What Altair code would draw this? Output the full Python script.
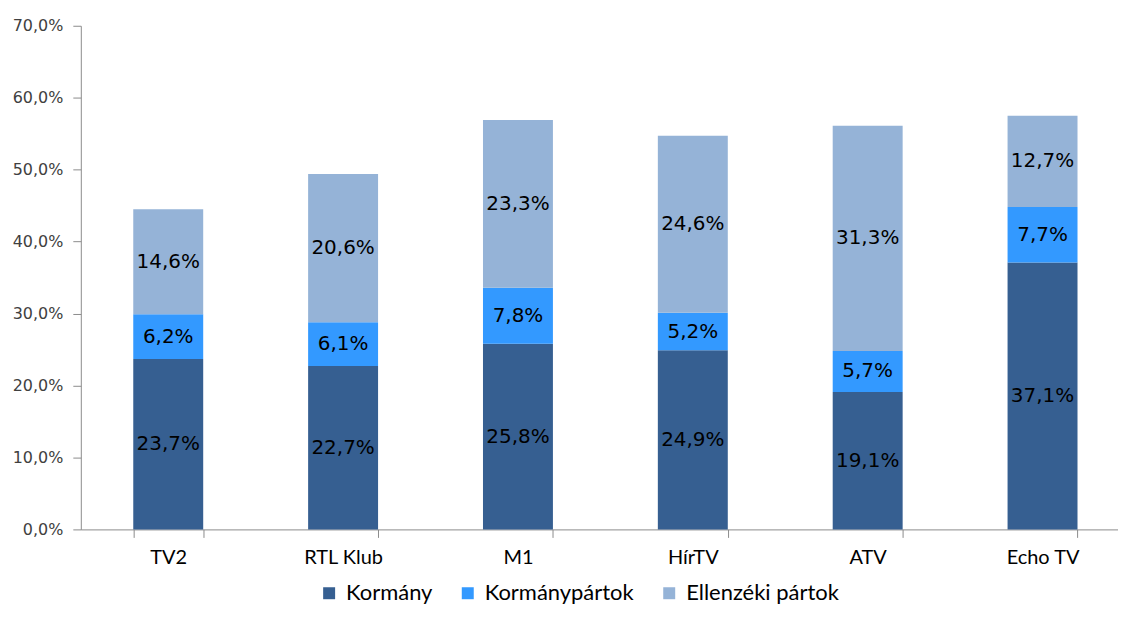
import altair as alt
import pandas as pd

channels = ["TV2", "RTL Klub", "M1", "HírTV", "ATV", "Echo TV"]
series = ["Kormány", "Kormánypártok", "Ellenzéki pártok"]
kormany = [23.7, 22.7, 25.8, 24.9, 19.1, 37.1]
kormanypartok = [6.2, 6.1, 7.8, 5.2, 5.7, 7.7]
ellenzeki = [14.6, 20.6, 23.3, 24.6, 31.3, 12.7]
colors = ["#365F91", "#3399FF", "#95B3D7"]
y_ticks = [0, 10, 20, 30, 40, 50, 60, 70]

rows = []
for i, ch in enumerate(channels):
    for j, (s, vals) in enumerate(zip(series, [kormany, kormanypartok, ellenzeki])):
        rows.append({"channel": ch, "series": s, "value": vals[i], "order": j})
df = pd.DataFrame(rows)

x_enc = alt.X(
    "channel:N",
    sort=channels,
    title=None,
    scale=alt.Scale(range=[0, 1052], paddingInner=0.6, paddingOuter=0.3),
    axis=alt.Axis(
        labelAngle=0,
        labelFont="Lato",
        labelFontSize=20,
        labelColor="#000000",
        labelPadding=10,
        tickBand="extent",
        tickSize=8,
        tickColor="#8c8c8c",
        domainColor="#8c8c8c",
        grid=False,
    ),
)

base = alt.Chart(df).transform_stack(
    stack="value",
    groupby=["channel"],
    as_=["y0", "y1"],
    sort=[alt.SortField("order", order="ascending")],
).transform_calculate(
    mid="(datum.y0 + datum.y1) / 2",
    lbl="replace(format(datum.value, '.1f'), '.', ',') + '%'",
)

bars = base.mark_bar().encode(
    x=x_enc,
    y=alt.Y(
        "y0:Q",
        title=None,
        scale=alt.Scale(domain=[0, 70], nice=False),
        axis=alt.Axis(
            values=y_ticks,
            labelExpr="replace(format(datum.value, '.1f'), '.', ',') + '%'",
            labelFont="DejaVu Sans",
            labelFontSize=16,
            labelColor="#404040",
            labelPadding=10,
            tickSize=8,
            tickColor="#8c8c8c",
            domainColor="#8c8c8c",
            grid=False,
        ),
    ),
    y2="y1:Q",
    color=alt.Color(
        "series:N",
        sort=series,
        scale=alt.Scale(domain=series, range=colors),
        legend=alt.Legend(
            title=None,
            orient="none",
            direction="horizontal",
            legendX=238,
            legendY=558,
            symbolType="square",
            symbolSize=144,
            symbolStrokeWidth=0,
            labelFont="Lato",
            labelFontSize=22,
            labelColor="#000000",
            labelOffset=6,
            columnPadding=24,
            padding=0,
        ),
    ),
)

labels = base.mark_text(
    font="DejaVu Sans", fontSize=20, color="#000000", baseline="middle", align="center"
).encode(
    x=alt.X("channel:N", sort=channels),
    y=alt.Y("mid:Q"),
    text="lbl:N",
)

chart = alt.layer(bars, labels).properties(
    width=1040,
    height=505,
    autosize=alt.AutoSizeParams(type="none"),
    padding={"left": 73, "top": 17, "right": 0, "bottom": 78},
).configure_view(stroke=None)

chart.save("out.html", embed_options={"renderer": "svg", "actions": False})
